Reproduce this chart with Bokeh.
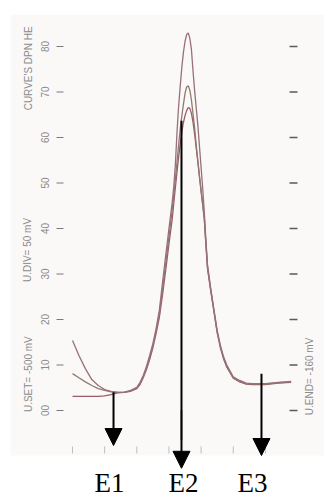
from math import pi
from bokeh.plotting import figure
from bokeh.models import Range1d, Arrow, NormalHead
from bokeh.embed import file_html
from bokeh.resources import INLINE
from bokeh.core.properties import value

# ---- data ----
potential_mv = [-500, -490, -480, -470, -460, -450, -440, -430, -420, -410, -400,
                -395, -390, -385, -380, -375, -370, -365, -360, -355, -350,
                -345, -342.5, -340, -337.5, -335, -332.5, -330, -327.5, -325, -322.5,
                -320, -317.5, -315, -312.5, -310, -307.5, -305, -302.5, -300, -297.5,
                -295, -292.5,
                -290, -285, -280, -275, -270, -265, -260,
                -250, -240, -230, -220,
                -200, -180, -160]

curve_a = [15.4, 12.1, 9.2, 6.8, 5.5, 4.6, 4.2, 4.0, 4.0, 4.4, 5.1,
           6.2, 7.7, 9.7, 12.1, 14.7, 18.0, 22.0, 28.1, 34.1, 40.0,
           45.7, 49.2, 54.1, 61.1, 66.8, 71.2, 75.4, 78.7, 81.1, 82.6,
           83.0, 81.8, 79.3, 74.5, 70.2, 66.4, 62.6, 58.0, 53.4, 48.8,
           43.6, 37.4,
           32.0, 26.8, 22.2, 17.6, 14.3, 11.8, 10.0,
           7.4, 6.6, 6.0, 5.9,
           5.9, 6.2, 6.4]

curve_b = [8.1, 7.2, 6.3, 5.5, 4.8, 4.4, 4.1, 4.0, 4.0, 4.3, 4.9,
           5.9, 7.4, 9.2, 11.6, 14.2, 17.4, 21.1, 26.6, 32.4, 38.2,
           44.0, 47.3, 50.8, 54.6, 58.4, 61.8, 64.7, 67.3, 69.7, 71.1,
           71.4, 70.4, 68.2, 65.1, 62.0, 58.2, 54.9, 51.6, 48.4, 45.5,
           42.2, 36.6,
           31.5, 26.5, 21.9, 17.3, 14.0, 11.5, 9.7,
           7.2, 6.4, 5.9, 5.8,
           5.8, 6.1, 6.3]

curve_c = [3.1, 3.1, 3.1, 3.1, 3.1, 3.2, 3.5, 3.9, 4.0, 4.2, 4.8,
           5.7, 7.2, 9.0, 11.2, 13.8, 16.9, 20.4, 25.4, 30.9, 36.6,
           42.0, 45.5, 49.0, 52.4, 55.6, 58.6, 61.2, 63.3, 64.8, 65.9,
           66.6, 66.4, 65.3, 63.3, 60.7, 57.6, 54.5, 51.2, 48.1, 45.1,
           42.0, 36.3,
           31.1, 26.3, 21.7, 17.1, 13.8, 11.3, 9.5,
           7.1, 6.3, 5.8, 5.7,
           5.7, 6.0, 6.2]

y_ticks = [0, 10, 20, 30, 40, 50, 60, 70, 80]
y_tick_labels = ["00", "10", "20", "30", "40", "50", "60", "70", "80"]
x_ticks = [-500, -450, -400, -350, -300, -250, -200]

side_texts = ["CURVE'S DPN HE", "U.DIV=  50    mV", "U.SET= -500   mV", "U.END= -160   mV"]
side_text_x = [-568.4, -570.0, -568.4, -131.4]
side_text_y = [75.2, 36.5, 8.6, 8.1]

marker_labels = ["E1", "E2", "E3"]
marker_label_x = [-442.5, -327.4, -220.1]
arrow_x = [-436.2, -330.5, -206.1]
arrow_from = [4.0, 63.7, 8.1]
arrow_to = [-7.7, -12.7, -9.9]

# ---- figure ----
p = figure(width=324, height=500, output_backend="svg", toolbar_location=None,
           x_range=Range1d(-611.97, -108.09), y_range=Range1d(-19.78, 90.11),
           min_border=0, x_axis_location=None, y_axis_location=None,
           background_fill_color="white", border_fill_color="white",
           outline_line_color=None)
p.xgrid.visible = False
p.ygrid.visible = False

# scanned paper tint
p.quad(left=[-596.4], right=[-108.09], bottom=[-9.9], top=[87.0],
       fill_color="#fbf8f8", line_color=None)

# left tick marks + labels
p.segment(x0=[-524.9] * len(y_ticks), x1=[-514.0] * len(y_ticks), y0=y_ticks, y1=y_ticks,
          line_color="#7a7a7a", line_width=1.2)
p.text(x=[-543.5] * len(y_ticks), y=y_ticks, text=y_tick_labels, angle=pi / 2,
       text_font=value("Liberation Sans"), text_font_size="10px", text_color="#8a8a8a",
       text_align="center", text_baseline="middle")
# right tick marks
p.segment(x0=[-162.5] * len(y_ticks), x1=[-150.1] * len(y_ticks), y0=y_ticks, y1=y_ticks,
          line_color="#5a5a5a", line_width=1.5)
# bottom tick marks
p.segment(x0=x_ticks, x1=x_ticks, y0=[-7.9] * len(x_ticks), y1=[-9.45] * len(x_ticks),
          line_color="#bdbdbd", line_width=1)

# side texts
p.text(x=side_text_x, y=side_text_y, text=side_texts, angle=pi / 2,
       text_font=value("Liberation Sans"), text_font_size="10px", text_color="#8c8c8c",
       text_align="center", text_baseline="middle")

# curves
p.line(potential_mv, curve_c, line_color="#9a5a6c", line_width=1.3)
p.line(potential_mv, curve_b, line_color="#8f7a6e", line_width=1.3)
p.line(potential_mv, curve_a, line_color="#96707c", line_width=1.3)

# scan artefact along E2 arrow
p.segment(x0=[arrow_x[1]], x1=[arrow_x[1]], y0=[0.0], y1=[-6.6],
          line_color="#555555", line_width=3, line_dash="1 1", line_alpha=0.7)

# arrows
for xa, y0, y1 in zip(arrow_x, arrow_from, arrow_to):
    p.add_layout(Arrow(end=NormalHead(size=17, fill_color="black", line_color="black"),
                       x_start=xa, y_start=y0, x_end=xa, y_end=y1,
                       line_color="black", line_width=2))

p.text(x=marker_label_x, y=[-16.0] * 3, text=marker_labels,
       text_font=value("Liberation Serif"), text_font_size="27px", text_color="black",
       text_align="center", text_baseline="middle")

open("out.html", "w").write(file_html(p, INLINE))
